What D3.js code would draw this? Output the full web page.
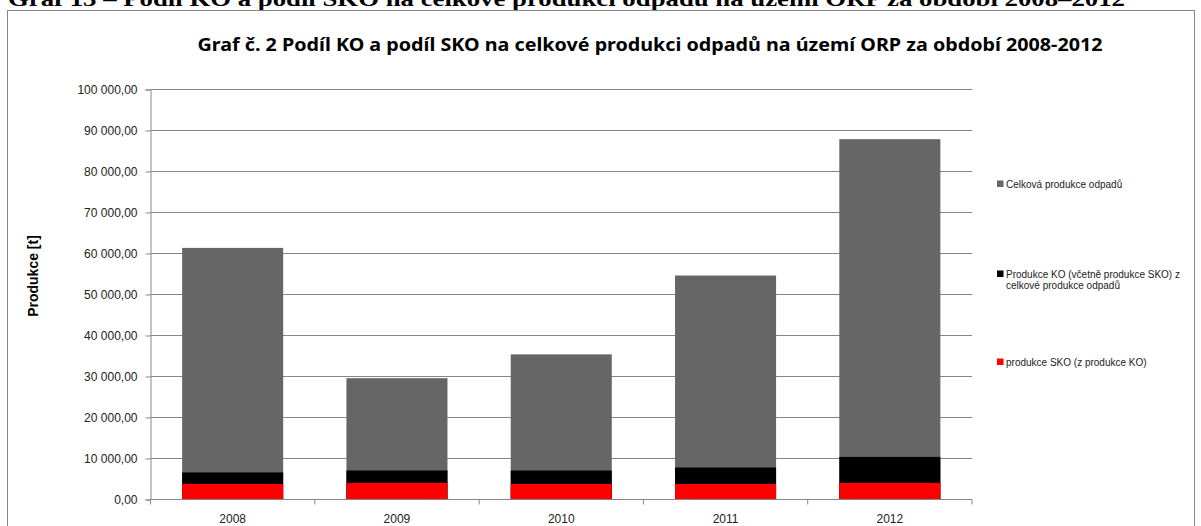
<!DOCTYPE html>
<html>
<head>
<meta charset="utf-8">
<script src="https://cdn.jsdelivr.net/npm/d3@7"></script>
<style>
  body { margin: 0; background: #fff; }
  svg { display: block; }
</style>
</head>
<body>
<div id="chart"></div>
<script>
// data
var years = ["2008", "2009", "2010", "2011", "2012"];
var celkova = [61370, 29590, 35400, 54630, 87880];   // Celková produkce odpadů
var ko = [6600, 7070, 7070, 7800, 10390];           // Produkce KO (včetně SKO)
var sko = [3800, 4050, 3800, 3800, 4050];           // produkce SKO
var yTicks = [0, 10000, 20000, 30000, 40000, 50000, 60000, 70000, 80000, 90000, 100000];
var legendLabels = [
  ["Celková produkce odpadů"],
  ["Produkce KO (včetně produkce SKO) z", "celkové produkce odpadů"],
  ["produkce SKO (z produkce KO)"]
];
var colors = ["#666666", "#000000", "#ff0000"];

var W = 1201, H = 526;
var margin = {top: 89.5, left: 150.5, right: 229, bottom: 26.5};
var width = W - margin.left - margin.right,
    height = H - margin.top - margin.bottom;

var svg = d3.select("#chart").append("svg")
  .attr("width", W)
  .attr("height", H);

// document heading (cut at the top of the picture)
svg.append("text")
  .attr("x", 8)
  .attr("y", 6)
  .attr("textLength", 1117)
  .attr("lengthAdjust", "spacingAndGlyphs")
  .style("font-family", "Liberation Serif")
  .style("font-weight", "bold")
  .style("font-size", "22px")
  .text("Graf 13 – Podíl KO a podíl SKO na celkové produkci odpadů na území ORP za období 2008–2012");

// chart frame
svg.append("rect")
  .attr("x", 7.5).attr("y", 10.5)
  .attr("width", 1187).attr("height", 530)
  .attr("fill", "none")
  .attr("stroke", "#868686")
  .attr("stroke-width", 1);

// chart title
svg.append("text")
  .attr("x", 650)
  .attr("y", 51)
  .attr("text-anchor", "middle")
  .attr("textLength", 905)
  .attr("lengthAdjust", "spacingAndGlyphs")
  .style("font-family", "Noto Sans")
  .style("font-weight", "bold")
  .style("font-size", "18px")
  .text("Graf č. 2 Podíl KO a podíl SKO na celkové produkci odpadů na území ORP za období 2008-2012");

var g = svg.append("g")
  .attr("transform", "translate(" + margin.left + "," + margin.top + ")");

var x = d3.scaleBand()
  .domain(years)
  .range([0, width])
  .paddingInner(0.385)
  .paddingOuter(0.1925);

var y = d3.scaleLinear()
  .domain([0, 100000])
  .range([height, 0]);

var cz = d3.formatLocale({decimal: ",", thousands: "\u00a0", grouping: [3], currency: ["", ""]});
var fmt = cz.format(",.2f");

// gridlines
g.selectAll(".grid")
  .data(yTicks.slice(1))
  .join("line")
  .attr("x1", 0)
  .attr("x2", width)
  .attr("y1", d => y(d))
  .attr("y2", d => y(d))
  .attr("stroke", "#868686")
  .attr("stroke-width", 1);

// bars, overlapping from zero
var series = [celkova, ko, sko];
series.forEach(function(s, i) {
  g.selectAll(".bar" + i)
    .data(s)
    .join("rect")
    .attr("x", (d, j) => x(years[j]))
    .attr("y", d => y(d))
    .attr("width", x.bandwidth())
    .attr("height", d => height - y(d))
    .attr("fill", colors[i]);
});

// y axis
var yAxis = g.append("g")
  .call(d3.axisLeft(y).tickValues(yTicks).tickFormat(fmt).tickSize(5).tickPadding(8))
  .style("font-family", "Liberation Sans")
  .style("font-size", "12px");
yAxis.select(".domain").attr("stroke", "#868686");
yAxis.selectAll(".tick line").attr("stroke", "#868686");
yAxis.selectAll(".tick text").attr("fill", "#222");

// x axis
var xAxis = g.append("g")
  .attr("transform", "translate(0," + height + ")");
xAxis.append("line")
  .attr("x1", 0).attr("x2", width)
  .attr("stroke", "#868686");
xAxis.selectAll(".xtick")
  .data(d3.range(years.length + 1))
  .join("line")
  .attr("x1", d => d * x.step())
  .attr("x2", d => d * x.step())
  .attr("y1", 0)
  .attr("y2", 5)
  .attr("stroke", "#868686");
xAxis.selectAll(".xlabel")
  .data(years)
  .join("text")
  .attr("x", d => x(d) + x.bandwidth() / 2)
  .attr("y", 23)
  .attr("text-anchor", "middle")
  .style("font-family", "Liberation Sans")
  .style("font-size", "12px")
  .attr("fill", "#222")
  .text(d => d);

// y axis title
svg.append("text")
  .attr("transform", "translate(38,276) rotate(-90)")
  .attr("text-anchor", "middle")
  .style("font-family", "Liberation Sans")
  .style("font-weight", "bold")
  .style("font-size", "14px")
  .text("Produkce [t]");

// legend
var legendY = [184, 274, 362];
var legend = svg.append("g");
legendLabels.forEach(function(lines, i) {
  legend.append("rect")
    .attr("x", 997)
    .attr("y", legendY[i] - 3.5)
    .attr("width", 6.5)
    .attr("height", 6.5)
    .attr("fill", colors[i]);
  lines.forEach(function(t, k) {
    legend.append("text")
      .attr("x", 1006)
      .attr("y", legendY[i] + 3.5 + k * 11)
      .style("font-family", "Liberation Sans")
      .style("font-size", "10px")
      .attr("fill", "#222")
      .text(t);
  });
});
</script>
</body>
</html>
